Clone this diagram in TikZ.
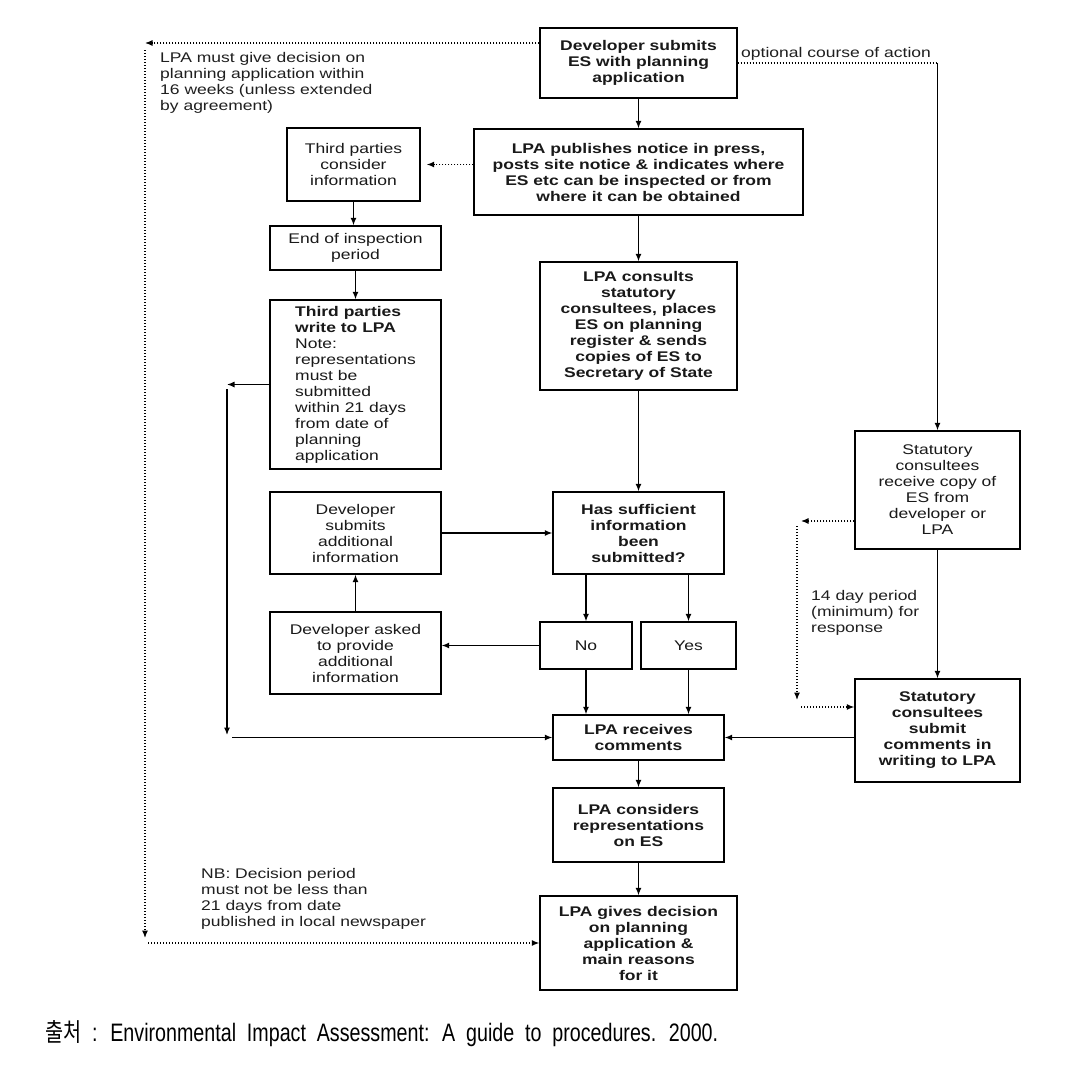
\documentclass[tikz,border=0pt]{standalone}
\usepackage{fontspec}
\setmainfont[FakeStretch=1.25]{Liberation Sans}
\newfontfamily\krfont{Noto Sans CJK KR}
\newfontfamily\capfont{Liberation Sans}
\usetikzlibrary{arrows.meta}
\begin{document}
\begin{tikzpicture}[x=1pt,y=-1pt,
 box/.style={draw, line width=1.4pt, inner sep=2pt, align=center, font=\fontsize{14}{16}\selectfont, text=black!90},
 bbox/.style={box, font=\fontsize{14}{16}\selectfont\bfseries},
 arr/.style={line width=1.2pt, -{Latex[length=7.5pt,width=6pt]}},
 dotarr/.style={arr, dash pattern=on 1pt off 2pt},
 dotln/.style={line width=1.2pt, dash pattern=on 1pt off 2pt},
 lbl/.style={align=left, inner sep=0pt, font=\fontsize{14}{16}\selectfont, text=black!88}]
\fill[white] (0,0) rectangle (1085,1076);
\useasboundingbox (0,0) rectangle (1085,1076);

% boxes
\node[bbox, minimum width=197, minimum height=70] (dev) at (638.5,63) {Developer submits\\ES with planning\\application};
\node[bbox, minimum width=329, minimum height=86] (pub) at (638.5,172) {LPA publishes notice in press,\\posts site notice \& indicates where\\ES etc can be inspected or from\\where it can be obtained};
\node[box, minimum width=133, minimum height=73] (tpc) at (353.5,164.5) {Third parties\\consider\\information};
\node[box, minimum width=171, minimum height=44] (eip) at (355.5,248) {End of inspection\\period};
\node[box, align=left, minimum width=171, minimum height=169] (tpw) at (355.5,384.5) {\textbf{Third parties}\\\textbf{write to LPA}\\Note:\\representations\\must be\\submitted\\within 21 days\\from date of\\planning\\application};
\node[bbox, minimum width=197, minimum height=128] (cons) at (638.5,326) {LPA consults\\statutory\\consultees, places\\ES on planning\\register \& sends\\copies of ES to\\Secretary of State};
\node[box, minimum width=165, minimum height=118] (sr) at (937.5,490) {Statutory\\consultees\\receive copy of\\ES from\\developer or\\LPA};
\node[box, minimum width=171, minimum height=82] (dsa) at (355.5,533) {Developer\\submits\\additional\\information};
\node[bbox, minimum width=171, minimum height=82] (hs) at (638.5,533) {Has sufficient\\information\\been\\submitted?};
\node[box, minimum width=171, minimum height=82] (dask) at (355.5,653) {Developer asked\\to provide\\additional\\information};
\node[box, minimum width=92, minimum height=47] (no) at (586,645.5) {No};
\node[box, minimum width=95, minimum height=47] (yes) at (688.5,645.5) {Yes};
\node[bbox, minimum width=171, minimum height=45] (rec) at (638.5,737.5) {LPA receives\\comments};
\node[bbox, minimum width=165, minimum height=103] (ss) at (937.5,730.5) {Statutory\\consultees\\submit\\comments in\\writing to LPA};
\node[bbox, minimum width=171, minimum height=74] (con) at (638.5,825) {LPA considers\\representations\\on ES};
\node[bbox, minimum width=197, minimum height=94] (dec) at (638.5,943) {LPA gives decision\\on planning\\application \&\\main reasons\\for it};

% labels
\node[lbl, anchor=base west] (opt) at (741,57) {optional course of action};
\node[lbl, anchor=north west] (note1) at (160,52) {LPA must give decision on\\planning application within\\16 weeks (unless extended\\by agreement)};
\node[lbl, anchor=north west] (note2) at (811,590) {14 day period\\(minimum) for\\response};
\node[lbl, anchor=north west] (note3) at (201,868) {NB: Decision period\\must not be less than\\21 days from date\\published in local newspaper};
\node[anchor=base west, inner sep=0pt] (cap) at (45,1041) {\resizebox{673pt}{21pt}{\fontsize{14}{16}\selectfont{\krfont 출처}\capfont\spaceskip=0.55em\ : Environmental Impact Assessment: A guide to procedures. 2000.}};

% coordinates
\coordinate (tr) at (937.5,63);
\coordinate (tl) at (145,43);
\coordinate (la) at (145,50);
\coordinate (lb) at (145,938);
\coordinate (lc) at (148,943);
\coordinate (ta) at (227,384.5);
\coordinate (va) at (227,389);
\coordinate (vb) at (227,735);
\coordinate (hb) at (232,737.5);
\coordinate (ra) at (801,521);
\coordinate (rb) at (797,526);
\coordinate (rc) at (797,700);
\coordinate (rd) at (801,707);

% solid connectors
\draw[arr] (dev) -- (pub);
\draw[arr] (pub) -- (cons);
\draw[arr] (cons) -- (hs);
\draw[arr] (tpc.south) -- (tpc.south |- eip.north);
\draw[arr] (eip) -- (tpw);
\draw[arr] (tpw.west) -- (ta);
\draw[arr] (va) -- (vb);
\draw[arr] (hb) -- (rec.west);
\draw[arr] (dsa) -- (hs);
\draw[arr] (no.north |- hs.south) -- (no.north);
\draw[arr] (yes.north |- hs.south) -- (yes.north);
\draw[arr] (no.west) -- (no.west -| dask.east);
\draw[arr] (dask) -- (dsa);
\draw[arr] (no.south) -- (no.south |- rec.north);
\draw[arr] (yes.south) -- (yes.south |- rec.north);
\draw[arr] (rec) -- (con);
\draw[arr] (con) -- (dec);
\draw[arr] (ss.west |- rec.east) -- (rec.east);
\draw[arr] (sr) -- (ss);
\draw[arr] (tr) -- (sr.north);

% dotted connectors
\draw[dotarr, shorten >=6pt] (pub.west |- tpc.east) -- (tpc.east);
\draw[dotln] (dev.east) -- (tr);
\draw[dotarr] ([yshift=20pt]dev.west) -- (tl);
\draw[dotarr] (la) -- (lb);
\draw[dotarr] (lc) -- (dec.west);
\draw[dotarr] ([yshift=-31pt]sr.west) -- (ra);
\draw[dotarr] (rb) -- (rc);
\draw[dotarr] (rd) -- ([yshift=23.5pt]ss.west);
\end{tikzpicture}
\end{document}
